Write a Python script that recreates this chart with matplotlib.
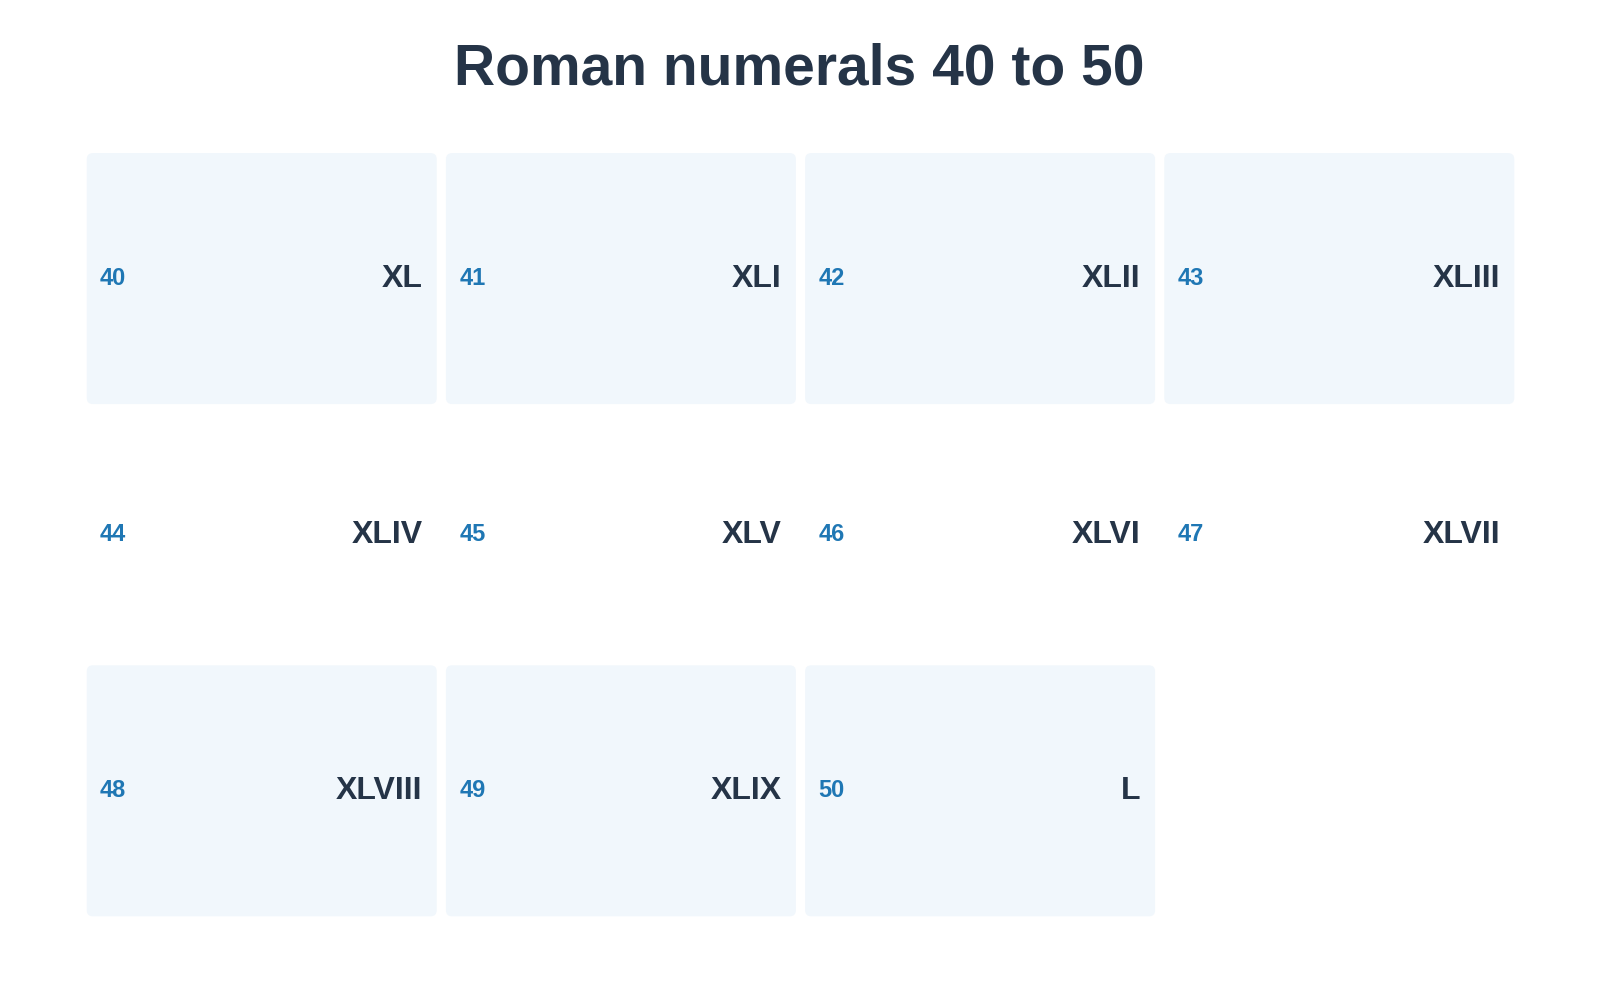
import matplotlib
matplotlib.use("Agg")
import matplotlib.pyplot as plt
from matplotlib.patches import FancyBboxPatch

numbers = [40, 41, 42, 43, 44, 45, 46, 47, 48, 49, 50]
numerals = ["XL", "XLI", "XLII", "XLIII", "XLIV", "XLV", "XLVI", "XLVII", "XLVIII", "XLIX", "L"]
title = "Roman numerals 40 to 50"

plt.rcParams['font.family'] = ['Liberation Sans', 'DejaVu Sans']
fig = plt.figure(figsize=(16, 10), dpi=100)
ax = fig.add_axes([0, 0, 1, 1])
W, H = 1568, 980
ax.set_xlim(0, W); ax.set_ylim(H, 0); ax.axis('off')

x0, cw, gap = 85, 343, 9
y0, rh, rpitch = 150, 246, 251
for i, (n, r) in enumerate(zip(numbers, numerals)):
    row, col = divmod(i, 4)
    x = x0 + col * (cw + gap)
    y = y0 + row * rpitch
    if row % 2 == 0:
        ax.add_patch(FancyBboxPatch((x + 6, y + 6), cw - 12, rh - 12,
                                    boxstyle="round,pad=6", fc="#f1f7fc", ec="none"))
    cy = y + rh / 2
    ax.text(x + 13, cy, str(n), color="#1f77b4", fontsize=17, fontweight='bold',
            ha='left', va='center')
    ax.text(x + cw - 14, cy, r, color="#253447", fontsize=23, fontweight='bold',
            ha='right', va='center')

ax.text(W / 2 - 1, 68, title, color="#253447", fontsize=41, fontweight='bold',
        ha='center', va='center')
fig.savefig("out.png", dpi=100, facecolor="white")
